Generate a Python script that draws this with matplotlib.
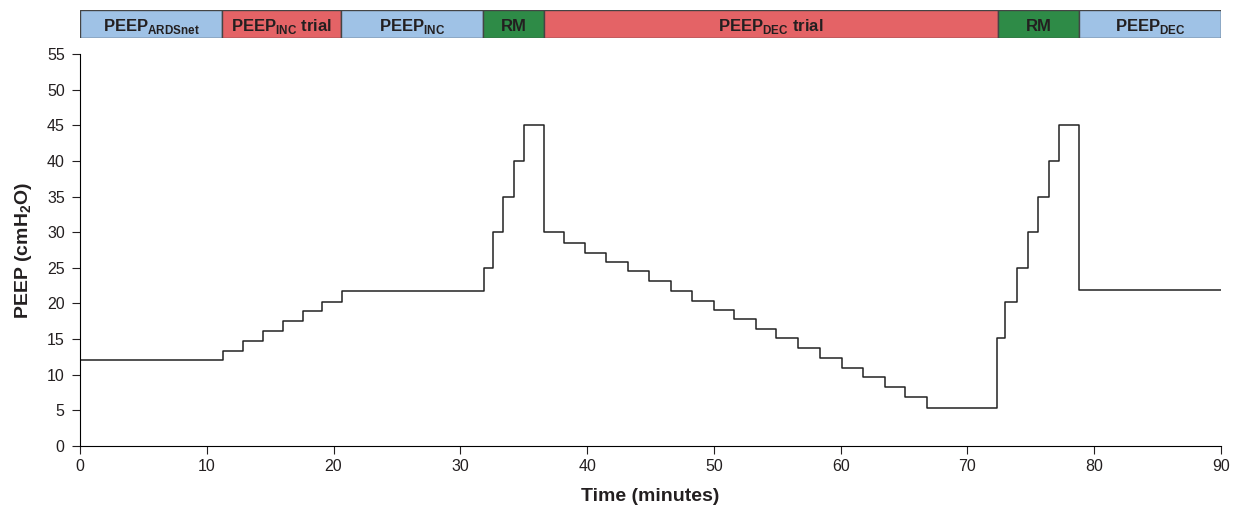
import matplotlib
matplotlib.use('Agg')
import matplotlib.pyplot as plt

plt.rcParams['font.family'] = 'Liberation Sans'
plt.rcParams['mathtext.fontset'] = 'custom'
plt.rcParams['mathtext.rm'] = 'Liberation Sans'
plt.rcParams['mathtext.bf'] = 'Liberation Sans:bold'

# step breakpoints (minutes) and PEEP level from that point on
times = [0, 11.25, 12.83, 14.4, 16.0, 17.56, 19.08, 20.66,
         31.84, 32.57, 33.36, 34.2, 35.0, 36.62,
         38.2, 39.85, 41.5, 43.2, 44.9, 46.6, 48.3, 50.0, 51.6, 53.3,
         54.9, 56.6, 58.4, 60.1, 61.8, 63.5, 65.1, 66.8,
         72.3, 73.0, 73.9, 74.8, 75.6, 76.4, 77.2, 78.8, 90]
peep = [12, 13.3, 14.7, 16.1, 17.5, 18.9, 20.2, 21.7,
        25, 30, 35, 40, 45, 30,
        28.5, 27.1, 25.8, 24.5, 23.1, 21.8, 20.4, 19.1, 17.8, 16.4,
        15.1, 13.7, 12.4, 11.0, 9.7, 8.3, 6.9, 5.4,
        15.2, 20.2, 25, 30, 35, 40, 45, 21.9, 21.9]

# protocol phases shown in the top bar
phase_labels = [r'PEEP$_\mathbf{ARDSnet}$', r'PEEP$_\mathbf{INC}$ trial', r'PEEP$_\mathbf{INC}$',
                'RM', r'PEEP$_\mathbf{DEC}$ trial', 'RM', r'PEEP$_\mathbf{DEC}$']
phase_start = [0, 11.2, 20.6, 31.8, 36.6, 72.4, 78.8]
phase_end = [11.2, 20.6, 31.8, 36.6, 72.4, 78.8, 90]
phase_kind = ['blue', 'red', 'blue', 'green', 'red', 'green', 'blue']

colours = {'blue': '#9fc2e6', 'red': '#e46366', 'green': '#2e8b47'}
txt = '#231f20'

fig = plt.figure(figsize=(12.36, 5.08), dpi=100)

# main plot
ax = fig.add_axes([80/1236, 1 - 446/508, (1221 - 80)/1236, (446 - 54)/508])
ax.step(times, peep, where='post', color='#222222', lw=1.1)
ax.set_xlim(0, 90)
ax.set_ylim(0, 55)
ax.set_xticks(range(0, 91, 10))
ax.set_yticks(range(0, 56, 5))
ax.spines['top'].set_visible(False)
ax.spines['right'].set_visible(False)
ax.tick_params(direction='out', length=6, labelsize=11.5, colors=txt)
ax.tick_params(axis='y', pad=5)
ax.set_xlabel('Time (minutes)', fontsize=14, fontweight='bold', color=txt, labelpad=10)
ax.set_ylabel(r'PEEP (cmH$_\mathbf{2}$O)', fontsize=14, fontweight='bold', color=txt, labelpad=9)

# phase bar
bar = fig.add_axes([80/1236, 1 - 38/508, (1221 - 80)/1236, 28/508])
for lab, s, e, k in zip(phase_labels, phase_start, phase_end, phase_kind):
    bar.barh(0, e - s, left=s, height=1, color=colours[k], edgecolor='#444444', lw=1)
    bar.text((s + e) / 2, -0.08, lab, ha='center', va='center', fontsize=12,
             fontweight='bold', color=txt)
bar.set_xlim(0, 90)
bar.set_ylim(-0.5, 0.5)
bar.axis('off')

plt.savefig('out.png', dpi=100)
